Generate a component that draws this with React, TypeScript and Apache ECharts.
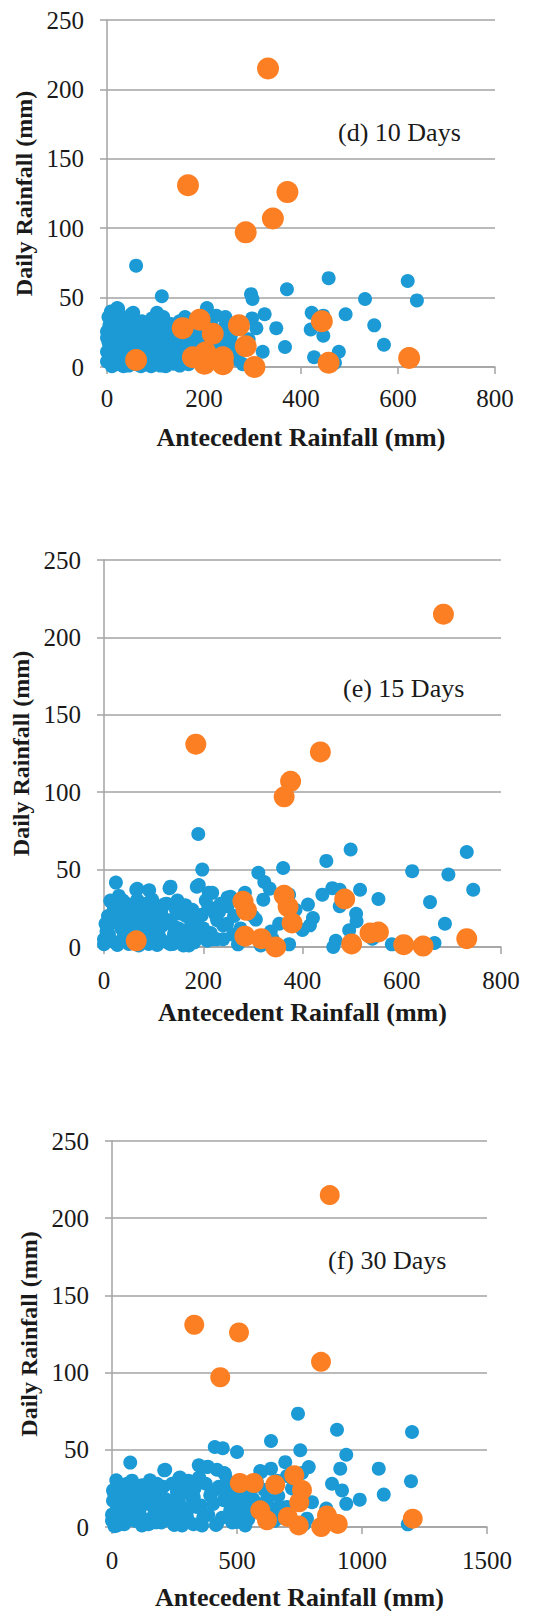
import React, { useEffect, useRef } from "react";
import * as echarts from "echarts";

// Panel (d) 10 days
const p10Blue: number[][] = [
  [60, 73], [113, 51], [297, 52.5], [300, 49], [206, 42.5], [21, 42.5], [54, 39], [103, 39], [161, 36], [244, 36],
  [299, 35], [325, 38], [371, 56], [457, 64], [422, 39], [446, 37], [492, 38], [532, 49], [620, 62], [639, 48],
  [349, 28], [308, 28], [420, 27], [446, 22.5], [551, 30], [571, 16], [367, 14.4], [321, 11], [478, 11], [427, 7],
  [470, 3], [261, 12.5], [244, 30], [246, 26], [213, 32], [292, 20], [137, 2.4],
  [3, 36], [30, 36], [23, 42], [13, 31.6], [37, 29], [64, 30], [94, 31.6], [114, 29], [0, 25.6], [23, 23],
  [47, 24], [70, 23], [104, 25.6], [124, 23], [144, 22], [171, 23], [191, 25.6], [215, 30], [235, 25.6], [3, 18],
  [30, 17], [57, 16], [84, 17], [111, 18], [134, 19.6], [158, 16], [185, 18], [201, 17], [164, 22], [0, 11],
  [17, 12.4], [44, 10], [70, 11], [94, 12.4], [114, 11], [138, 12.4], [171, 11], [265, 15], [252, 10], [0, 4],
  [23, 4], [50, 5], [84, 4], [104, 6.5], [124, 4], [141, 3], [158, 6.5], [34, 0.5], [10, 0.5], [91, 0.5],
  [70, 0.5], [121, 0.5], [0, 21], [7, 9], [17, 6.5], [10, 28], [40, 20], [60, 14], [80, 8], [100, 15],
  [120, 16], [150, 9], [180, 14], [200, 20], [220, 14], [230, 6], [190, 3], [60, 2], [45, 33], [5, 15],
  [110, 1], [150, 1], [30, 10], [75, 27], [130, 8], [165, 5], [205, 4], [240, 18], [270, 5], [280, 2],
  [195, 30], [225, 37], [175, 30], [12, 22], [88, 21], [55, 25], [148, 28], [116, 36], [20, 2], [45, 1],
  [5, 30], [15, 14], [25, 27], [35, 19], [42, 5], [52, 12], [62, 20], [72, 33], [78, 3], [86, 28],
  [96, 20], [100, 3], [108, 10], [118, 26], [126, 15], [132, 31], [140, 18], [146, 6], [155, 24], [162, 13],
  [168, 2], [178, 19], [183, 27], [188, 10], [196, 23], [208, 13], [212, 25], [222, 8], [228, 20], [236, 11],
  [248, 4], [255, 22], [8, 40], [28, 32], [50, 38], [20, 16], [40, 14], [65, 7], [93, 35], [150, 33],
];
const p10Orange: number[][] = [
  [332, 215], [167, 131], [372, 126], [342, 107], [286, 97], [191, 34], [156, 28], [218, 24], [272, 30], [443, 33],
  [286, 15], [60, 5], [177, 7], [203, 10.5], [201, 2.4], [239, 7], [239, 2], [304, 0], [457, 3], [623, 6.5],
];

// Panel (e) 15 days
const p15Blue: number[][] = [
  [190, 73], [198, 50], [24, 41.6], [187, 39], [211, 35], [132, 38], [65, 37], [91, 36.6], [96, 30.6], [13, 29.5],
  [121, 27.4], [158, 26.3], [249, 32], [249, 26.3], [284, 35], [311, 48], [323, 42], [334, 37.7], [321, 30.6], [306, 17.7],
  [361, 51], [373, 33.8], [386, 24], [353, 15], [336, 10], [411, 27.4], [421, 18.7], [415, 14], [440, 33.8], [448, 55.6],
  [460, 38], [475, 37], [497, 63], [516, 37], [475, 26.3], [508, 21.5], [509, 16.6], [494, 10.8], [553, 31], [541, 5.4],
  [462, 0], [467, 4], [580, 1.7], [621, 49], [657, 29], [666, 2.6], [694, 46.8], [687, 15], [731, 61.4], [744, 37],
  [373, 1.7], [316, 1], [270, 1.7], [220, 5], [240, 14], [225, 20.5], [210, 25], [197, 20.5], [176, 16.6], [169, 6.5],
  [171, 1], [139, 2], [186, 10.8],
  [67, 37.6], [134, 39], [191, 40], [218, 35], [13, 30], [67, 30.5], [74, 26], [97, 30.5], [126, 28], [164, 27],
  [153, 21.7], [195, 20.6], [218, 25], [40, 24], [27, 20.6], [54, 17.3], [13, 15], [107, 18.4], [134, 17.3], [94, 12.8],
  [174, 12.8], [185, 17.3], [228, 17.3], [248, 15], [232, 22.8], [0, 5], [13, 4], [40, 7.3], [87, 6.2], [114, 5],
  [141, 8.4], [161, 4], [188, 6.2], [208, 4], [228, 5], [0, 1.8], [27, 1.3], [107, 1.3], [134, 1.8], [255, 32.5],
  [5, 10], [20, 25], [35, 12], [50, 22], [60, 8], [75, 16], [82, 22], [100, 10], [118, 14], [150, 12],
  [50, 2], [70, 1], [90, 2], [160, 1], [30, 33], [45, 28], [115, 23], [145, 24], [8, 20], [62, 12],
  [300, 20], [340, 5], [400, 11], [260, 8],
  [3, 15], [10, 8], [18, 18], [22, 3], [33, 20], [38, 30], [47, 10], [55, 4], [58, 27], [68, 20],
  [80, 10], [85, 28], [92, 16], [102, 24], [110, 8], [122, 18], [128, 3], [142, 13], [148, 30], [156, 7],
  [165, 20], [178, 24], [182, 3], [200, 12], [205, 30], [215, 9], [235, 28], [240, 5], [262, 20], [275, 12],
];
const p15Orange: number[][] = [
  [684, 215], [185, 131], [436, 126], [376, 107], [363, 97], [485, 31], [363, 33.4], [371, 26], [379, 15.5], [280, 29.5],
  [287, 23.7], [284, 7], [317, 5.4], [346, 0], [65, 4], [499, 2], [536, 9], [553, 9.7], [604, 1.5], [643, 0.6],
  [731, 5.4],
];

// Panel (f) 30 days
const p30Blue: number[][] = [
  [744, 73.4], [900, 63], [1200, 61.5], [636, 55.7], [411, 51.8], [443, 51], [500, 48.6], [753, 49.7], [937, 46.8], [73, 41.7],
  [693, 42], [787, 38.8], [913, 37.8], [1067, 37.8], [347, 40], [380, 38.9], [420, 37.1], [449, 35], [209, 36.7], [269, 31.7],
  [593, 36.3], [636, 37.8], [880, 28], [920, 23.7], [1196, 29.6], [1087, 21], [991, 17.7], [937, 15], [800, 16], [700, 13],
  [671, 12.7], [857, 12], [780, 5.4], [1183, 1.7], [520, 9.7], [500, 3.2], [533, 1], [420, 2], [360, 1], [393, 20.5],
  [427, 26], [473, 24.6], [447, 17.3], [487, 15], [540, 19.4], [573, 15], [607, 15], [553, 13], [473, 10.8], [347, 31.7],
  [327, 19.4], [340, 13], [300, 6.5], [247, 2], [247, 11.9], [260, 22.7],
  [213, 37], [272, 32], [384, 39], [452, 34.2], [349, 32], [17, 30.3], [152, 30.3], [120, 27], [68, 23.7], [107, 23.7],
  [23, 19.3], [62, 19.3], [171, 21.5], [197, 17], [262, 23.7], [249, 17], [320, 19.3], [313, 12.7], [397, 21.5], [423, 24.8],
  [139, 15], [94, 12.7], [17, 10.5], [55, 8.3], [171, 10.5], [223, 7.2], [281, 8.3], [365, 6.1], [0, 4], [49, 1.8],
  [94, 4], [146, 1.8], [197, 2.9], [249, 1.3], [326, 1.8], [416, 1.3], [481, 2.9], [506, 8.3], [597, 35.7], [532, 19.3],
  [468, 17], [4, 17], [4, 23.7], [0, 8], [30, 14], [40, 26], [85, 17], [130, 19], [160, 6], [180, 28],
  [230, 14], [290, 27], [120, 1], [20, 1], [75, 5], [110, 9], [190, 13], [60, 28], [10, 0.5], [280, 1],
  [560, 25], [620, 18], [660, 30], [720, 25], [585, 10], [650, 4], [700, 33], [760, 35], [770, 2],
  [8, 22], [15, 3], [28, 27], [35, 7], [45, 19], [52, 12], [80, 30], [88, 9], [100, 20], [115, 14],
  [125, 5], [135, 25], [148, 22], [165, 16], [175, 3], [185, 8], [205, 26], [215, 18], [240, 28], [255, 5],
  [270, 15], [285, 22], [305, 30], [330, 25], [355, 14], [375, 28], [385, 8], [405, 15], [440, 6], [455, 22],
  [460, 30], [490, 20], [510, 14], [525, 26], [545, 5], [565, 18], [580, 29], [600, 8], [610, 24], [640, 12],
  [665, 20], [680, 6],
];
const p30Orange: number[][] = [
  [871, 215], [329, 131], [508, 126], [836, 107], [433, 97], [511, 28.5], [567, 28.5], [653, 27.4], [729, 33.5], [760, 24],
  [749, 16], [593, 10.8], [620, 4.3], [703, 6.5], [747, 1], [837, 0], [860, 7.5], [903, 2], [1203, 5.4],
];

const panelBlue = [p10Blue, p15Blue, p30Blue];
const panelOrange = [p10Orange, p15Orange, p30Orange];
const xMaxes = [800, 800, 1500];
const xIntervals = [200, 200, 500];
const yMax = 250;
const yInterval = 50;
const panelLabels = ["(d) 10 Days", "(e) 15 Days", "(f) 30 Days"];
const xTitle = "Antecedent Rainfall (mm)";
const yTitle = "Daily Rainfall (mm)";

const grids = [
  { left: 107, top: 20, width: 388, height: 347 },
  { left: 104, top: 560, width: 397, height: 387 },
  { left: 112, top: 1141, width: 375, height: 386 },
];
const labelPos = [
  { x: 338, y: 132 },
  { x: 343, y: 688 },
  { x: 328, y: 1260 },
];
const xNameGap = [57, 52, 57];
const xLabelMargin = [19, 21, 21];
const yNameGap = [70, 69, 68];
const orangeSize = [22, 21, 20];
const blueSize = [14, 14, 14];

const SERIF = "Liberation Serif";
const GRID_COLOR = "#a3a3a3";
const TEXT_COLOR = "#1a1a1a";
const BLUE = "#1b9ad6";
const ORANGE = "#fd7f24";

export default function App() {
  const ref = useRef<HTMLDivElement>(null);
  useEffect(() => {
    document.body.style.margin = "0";
    if (!ref.current) return;
    const chart = echarts.init(ref.current, undefined, { renderer: "svg" });
    const lineStyle = { color: GRID_COLOR, width: 1.5 };
    const option: any = {
      animation: false,
      backgroundColor: "#ffffff",
      textStyle: { fontFamily: SERIF },
      grid: grids.map((g) => ({ ...g, containLabel: false })),
      xAxis: grids.map((_, i) => ({
        type: "value",
        gridIndex: i,
        min: 0,
        max: xMaxes[i],
        interval: xIntervals[i],
        axisLine: { show: true, lineStyle },
        axisTick: { show: true, length: 7, lineStyle },
        splitLine: { show: false },
        axisLabel: {
          fontFamily: SERIF,
          fontSize: 25,
          color: TEXT_COLOR,
          margin: xLabelMargin[i],
          formatter: (v: number) => String(v),
        },
        name: xTitle,
        nameLocation: "middle",
        nameGap: xNameGap[i],
        nameTextStyle: { fontFamily: SERIF, fontSize: 26, fontWeight: "bold", color: TEXT_COLOR },
      })),
      yAxis: grids.map((_, i) => ({
        type: "value",
        gridIndex: i,
        min: 0,
        max: yMax,
        interval: yInterval,
        axisLine: { show: true, lineStyle },
        axisTick: { show: true, length: 7, lineStyle },
        splitLine: { show: true, lineStyle },
        axisLabel: {
          fontFamily: SERIF,
          fontSize: 25,
          color: TEXT_COLOR,
          margin: 23,
          formatter: (v: number) => String(v),
        },
        name: yTitle,
        nameLocation: "middle",
        nameGap: yNameGap[i],
        nameTextStyle: { fontFamily: SERIF, fontSize: 24, fontWeight: "bold", color: TEXT_COLOR },
      })),
      series: [
        ...panelBlue.map((data, i) => ({
          type: "scatter",
          xAxisIndex: i,
          yAxisIndex: i,
          data,
          symbolSize: blueSize[i],
          itemStyle: { color: BLUE, opacity: 1 },
          z: 2,
        })),
        ...panelOrange.map((data, i) => ({
          type: "scatter",
          xAxisIndex: i,
          yAxisIndex: i,
          data,
          symbolSize: orangeSize[i],
          itemStyle: { color: ORANGE, opacity: 1 },
          z: 3,
        })),
      ],
      graphic: panelLabels.map((t, i) => ({
        type: "text",
        x: labelPos[i].x,
        y: labelPos[i].y,
        style: {
          text: t,
          fontFamily: SERIF,
          fontSize: 26,
          fill: TEXT_COLOR,
          verticalAlign: "middle",
        },
      })),
    };
    chart.setOption(option);
    return () => chart.dispose();
  }, []);
  return <div ref={ref} style={{ width: 542, height: 1611 }} />;
}
